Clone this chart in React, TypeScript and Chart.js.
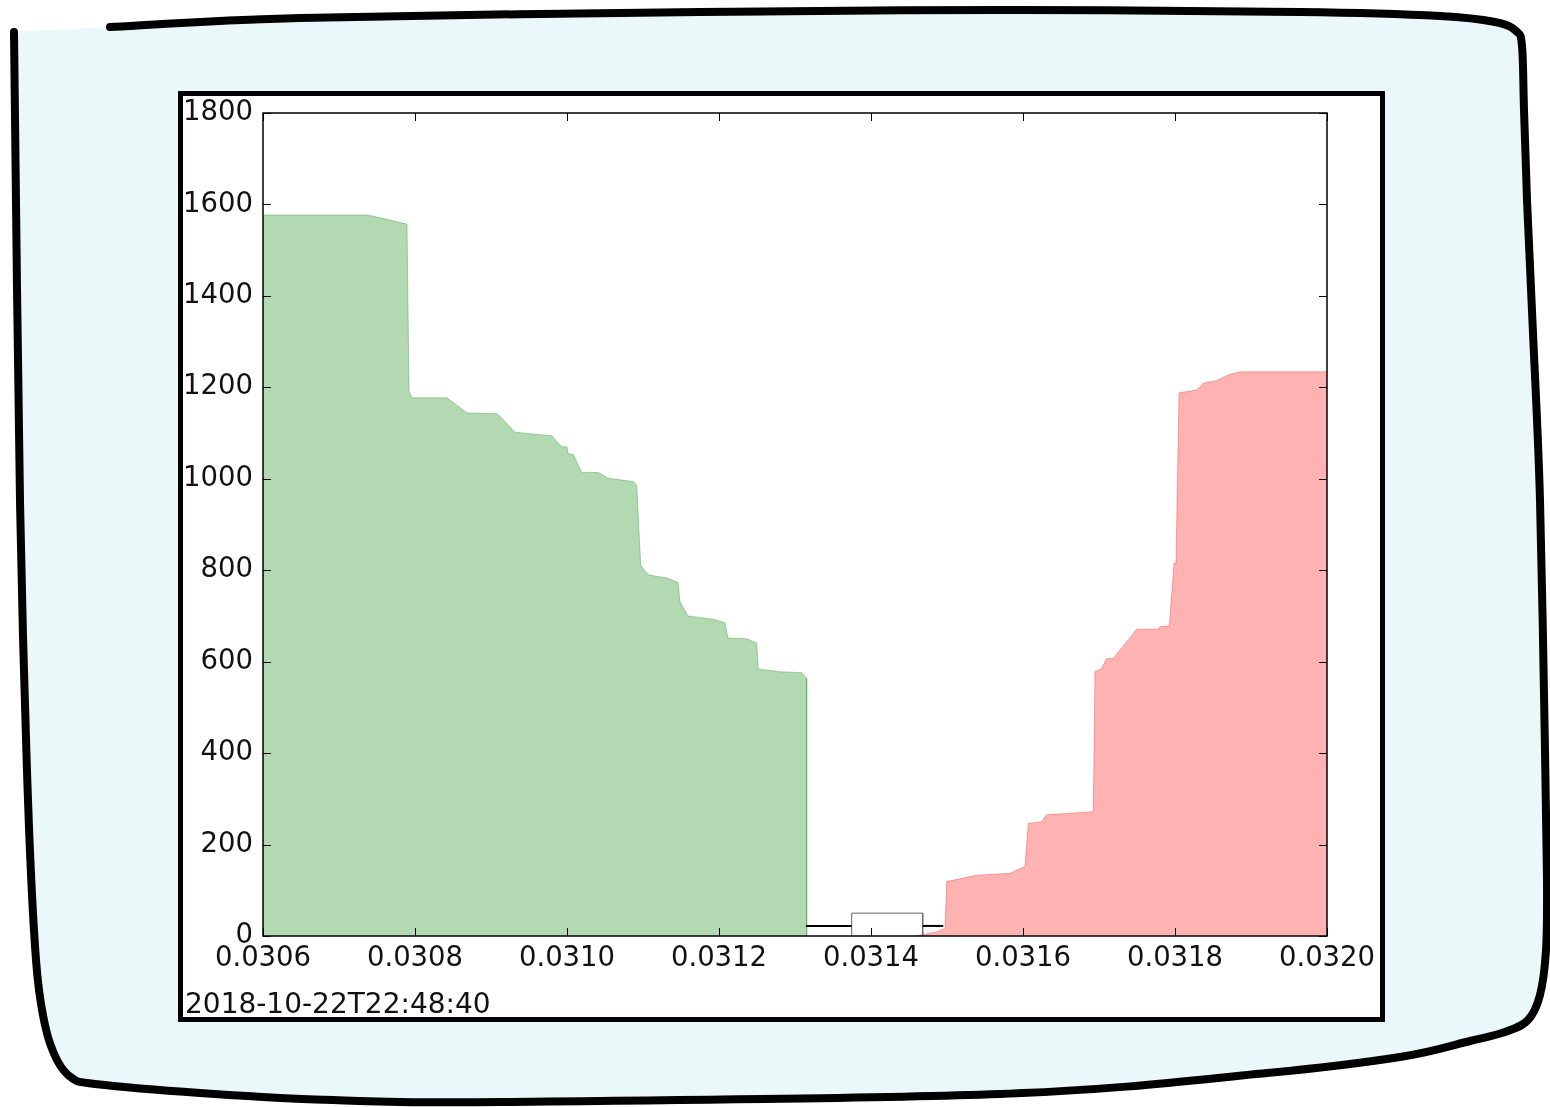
import React, { useEffect, useRef } from "react";
import { Chart, registerables } from "chart.js";

Chart.register(...registerables);

// Bid side (green) cumulative depth
const bidPrices = [
  0.0306, 0.0307382, 0.0307895, 0.0307921, 0.0307961, 0.0308421, 0.0308684, 0.0309079,
  0.0309118, 0.0309316, 0.0309553, 0.0309799, 0.030993, 0.031, 0.0310017, 0.0310079,
  0.0310193, 0.0310412, 0.0310543, 0.0310872, 0.0310917, 0.031097, 0.0311066, 0.0311316,
  0.0311461, 0.0311487, 0.0311592, 0.0311921, 0.0312079, 0.0312118, 0.0312364, 0.0312496,
  0.0312517, 0.0312803, 0.0313088, 0.0313154, 0.0313154,
];
const bidDepth = [
  1577, 1577, 1557, 1192, 1177, 1177, 1144, 1142,
  1137, 1102, 1098, 1094, 1070, 1070, 1054, 1054,
  1014, 1014, 1001, 994, 986, 811, 790, 783,
  773, 731, 700, 693, 685, 652, 650, 641,
  584, 578, 576, 564, 0,
];

// Ask side (red) cumulative depth
const askPrices = [
  0.0314579, 0.0314864, 0.0314974, 0.0314996, 0.0315391, 0.0315829, 0.0316026, 0.031607,
  0.0316246, 0.0316312, 0.0316925, 0.0316947, 0.0317036, 0.0317101, 0.0317188, 0.0317496,
  0.031778, 0.0317803, 0.0317925, 0.0317987, 0.0318013, 0.0318053, 0.0318286, 0.0318372,
  0.0318549, 0.0318701, 0.0318855, 0.032,
];
const askDepth = [
  0, 9, 17, 119, 133, 137, 152, 246,
  250, 265, 272, 578, 585, 607, 607, 671,
  671, 677, 678, 815, 815, 1188, 1194, 1209,
  1215, 1227, 1234, 1234,
];

// Spread marker: whisker lines and box
const leftWhiskerX = [0.0313145, 0.0313746];
const rightWhiskerX = [0.031468, 0.0314951];
const whiskerLevel = 22;
const boxX = [0.0313746, 0.031468];
const boxTop = 50;

const xTicks = [0.0306, 0.0308, 0.031, 0.0312, 0.0314, 0.0316, 0.0318, 0.032];
const yTicks = [0, 200, 400, 600, 800, 1000, 1200, 1400, 1600, 1800];
const timestamp = "2018-10-22T22:48:40";

const FONT = "'DejaVu Sans', sans-serif";

// hand-drawn frame outline (decoration)
const framePts: [number, number][] = [
  [110, 27], [300, 18], [700, 12], [1000, 10], [1300, 12], [1440, 16], [1495, 22],
  [1516, 31], [1522, 46], [1524, 110], [1527, 200], [1533, 333], [1540, 500],
  [1545, 750], [1547, 880], [1546, 950], [1540, 995], [1528, 1020], [1505, 1032],
  [1470, 1041], [1400, 1057], [1267, 1073], [1000, 1094], [500, 1102], [333, 1100],
  [200, 1093], [95, 1084], [72, 1078], [57, 1060], [45, 1025], [36, 960], [28, 800],
  [20, 500], [14, 32],
];

function smoothPath(pts: [number, number][]) {
  let d = `M${pts[0][0]} ${pts[0][1]}`;
  for (let i = 0; i < pts.length - 1; i++) {
    const p0 = pts[Math.max(i - 1, 0)];
    const p1 = pts[i];
    const p2 = pts[i + 1];
    const p3 = pts[Math.min(i + 2, pts.length - 1)];
    const c1x = p1[0] + (p2[0] - p0[0]) / 6;
    const c1y = p1[1] + (p2[1] - p0[1]) / 6;
    const c2x = p2[0] - (p3[0] - p1[0]) / 6;
    const c2y = p2[1] - (p3[1] - p1[1]) / 6;
    d += ` C${c1x.toFixed(1)} ${c1y.toFixed(1)} ${c2x.toFixed(1)} ${c2y.toFixed(1)} ${p2[0]} ${p2[1]}`;
  }
  return d;
}

const frameBorderPlugin = {
  id: "frameBorder",
  afterDraw(chart: any) {
    const { ctx, chartArea, scales } = chart;
    const { left, right, top, bottom } = chartArea;
    const tl = 8;
    ctx.save();
    ctx.strokeStyle = "#000";
    ctx.lineWidth = 1;
    ctx.beginPath();
    xTicks.forEach((v) => {
      const x = Math.round(scales.x.getPixelForValue(v)) + 0.5;
      ctx.moveTo(x, bottom);
      ctx.lineTo(x, bottom - tl);
      ctx.moveTo(x, top);
      ctx.lineTo(x, top + tl);
    });
    yTicks.forEach((v) => {
      const y = Math.round(scales.y.getPixelForValue(v)) + 0.5;
      ctx.moveTo(left, y);
      ctx.lineTo(left + tl, y);
      ctx.moveTo(right, y);
      ctx.lineTo(right - tl, y);
    });
    ctx.stroke();
    ctx.lineWidth = 1.5;
    ctx.strokeRect(left, top, right - left, bottom - top);
    ctx.restore();
  },
};

function DepthChart() {
  const ref = useRef<HTMLCanvasElement | null>(null);
  useEffect(() => {
    if (!ref.current) return;
    const bids = bidPrices.map((p, i) => ({ x: p, y: bidDepth[i] }));
    const asks = askPrices.map((p, i) => ({ x: p, y: askDepth[i] }));
    const leftW = leftWhiskerX.map((x) => ({ x, y: whiskerLevel }));
    const rightW = rightWhiskerX.map((x) => ({ x, y: whiskerLevel }));
    const box = [
      { x: boxX[0], y: 0 },
      { x: boxX[0], y: boxTop },
      { x: boxX[1], y: boxTop },
      { x: boxX[1], y: 0 },
    ];
    const tickFont = { family: FONT, size: 27.5, lineHeight: "34px" };
    const chart = new Chart(ref.current, {
      type: "line",
      data: {
        datasets: [
          { data: leftW, borderColor: "#000", borderWidth: 2, pointRadius: 0, fill: false },
          { data: rightW, borderColor: "#000", borderWidth: 2, pointRadius: 0, fill: false },
          { data: box, borderColor: "#666", borderWidth: 1, pointRadius: 0, fill: false },
          {
            data: asks,
            borderColor: "rgba(255,0,0,0.3)",
            backgroundColor: "rgba(255,0,0,0.3)",
            borderWidth: 1,
            pointRadius: 0,
            fill: "origin",
          },
          {
            data: bids,
            borderColor: "rgba(0,128,0,0.3)",
            backgroundColor: "rgba(0,128,0,0.3)",
            borderWidth: 1,
            pointRadius: 0,
            fill: "origin",
          },
        ],
      },
      options: {
        animation: false,
        responsive: false,
        devicePixelRatio: 1,
        layout: { padding: { left: 0, top: 0, right: 56, bottom: 0 } },
        plugins: { legend: { display: false }, tooltip: { enabled: false } },
        elements: { line: { tension: 0 } },
        scales: {
          x: {
            type: "linear",
            min: 0.0306,
            max: 0.032,
            afterBuildTicks: (s: any) => {
              s.ticks = xTicks.map((v) => ({ value: v }));
            },
            afterFit: (s: any) => {
              s.height = 81;
            },
            grid: { display: false, drawTicks: false },
            border: { display: false },
            ticks: {
              autoSkip: false,
              maxRotation: 0,
              padding: 6,
              color: "#111",
              font: tickFont,
              callback: (v: any) => Number(v).toFixed(4),
            },
          },
          y: {
            type: "linear",
            min: 0,
            max: 1800,
            afterBuildTicks: (s: any) => {
              s.ticks = yTicks.map((v) => ({ value: v }));
            },
            afterFit: (s: any) => {
              s.width = 80;
            },
            grid: { display: false, drawTicks: false },
            border: { display: false },
            ticks: {
              padding: 10,
              color: "#111",
              font: tickFont,
              callback: (v: any) => String(v),
            },
          },
        },
      },
      plugins: [frameBorderPlugin],
    } as any);
    return () => chart.destroy();
  }, []);
  return (
    <canvas
      ref={ref}
      width={1200}
      height={931}
      style={{ position: "absolute", left: 183, top: 86, width: 1200, height: 931 }}
    />
  );
}

export default function App() {
  const outline = smoothPath(framePts);
  return (
    <div
      style={{
        position: "absolute",
        left: 0,
        top: 0,
        width: 1550,
        height: 1107,
        background: "#fff",
        overflow: "hidden",
      }}
    >
      <svg width={1550} height={1107} style={{ position: "absolute", left: 0, top: 0 }}>
        <path d={outline + " Z"} fill="#eaf8fa" stroke="none" />
        <path
          d={outline}
          fill="none"
          stroke="#000"
          strokeWidth={8}
          strokeLinecap="round"
          strokeLinejoin="round"
        />
      </svg>
      <div
        style={{
          position: "absolute",
          left: 178,
          top: 91,
          width: 1207,
          height: 931,
          boxSizing: "border-box",
          border: "5px solid #000",
          background: "#fff",
        }}
      />
      <DepthChart />
      <div
        style={{
          position: "absolute",
          left: 185,
          top: 987,
          lineHeight: "34px",
          fontFamily: FONT,
          fontSize: 28,
          color: "#111",
          whiteSpace: "nowrap",
        }}
      >
        {timestamp}
      </div>
    </div>
  );
}
